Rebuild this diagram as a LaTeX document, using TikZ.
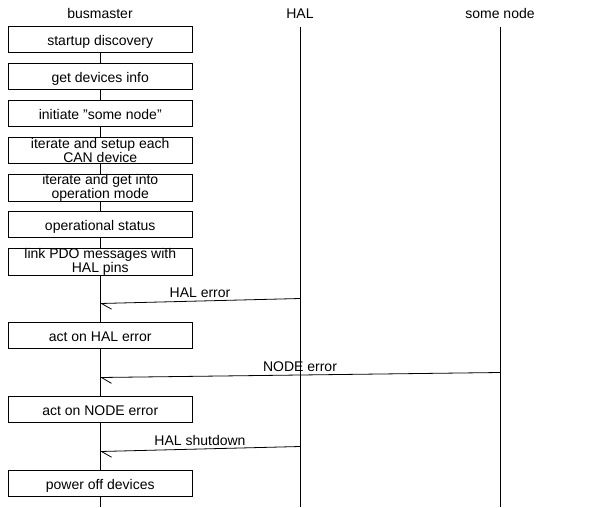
\documentclass[tikz,border=0pt]{standalone}
\usepackage{fontspec}
\setmainfont{Liberation Sans}
\usetikzlibrary{arrows.meta,positioning}

\begin{document}
\begin{tikzpicture}[x=1pt, y=-1pt, font=\fontsize{14}{10.5}\selectfont]
			\tikzstyle{Actor}	= [anchor=base, inner sep=0pt, text height=10pt, text depth=8pt]
			\tikzstyle{Life}	= [line width=0.8pt]
			\tikzstyle{Action}	= [draw, fill=white, line width=0.8pt, minimum width=183.5pt, minimum height=25.5pt, inner sep=0pt]
			\tikzstyle{OneLine}	= [text height=11pt, text depth=0pt]
			\tikzstyle{TwoLine}	= [align=center]
			\tikzstyle{Msg}		= [line width=0.8pt, -{Straight Barb[harpoon, length=10pt, width=12pt]}]
			\tikzstyle{Lbl}		= [midway, anchor=base, yshift=3.5pt, inner sep=0pt]
			
			\useasboundingbox (0,0) rectangle (600,507);
			
			\node (bm) at (100, 18.5) [Actor] {busmaster};
			\node (hal) at (300, 18.5) [Actor] {HAL};
			\node (sn) at (500, 18.5) [Actor] {some node};
			
			\coordinate (bmEnd) at (100, 507);
			\coordinate (halEnd) at (300, 507);
			\coordinate (snEnd) at (500, 507);
			
			\draw [Life] (bm.south) to (bmEnd);
			\draw [Life] (hal.south) to (halEnd);
			\draw [Life] (sn.south) to (snEnd);
			
			\node (a1) at (100.25, 39.5) [Action, OneLine] {startup discovery};
			\node (a2) at (100.25, 76.5) [Action, OneLine] {get devices info};
			\node (a3) at (100.25, 113.5) [Action, OneLine] {initiate "some node"};
			\node (a4) at (100.25, 150.5) [Action, TwoLine] {iterate and setup each\\CAN device};
			\node (a5) at (100.25, 187.5) [Action, TwoLine] {iterate and get into\\operation mode};
			\node (a6) at (100.25, 224.5) [Action, OneLine] {operational status};
			\node (a7) at (100.25, 261.5) [Action, TwoLine] {link PDO messages with\\HAL pins};
			\node (a8) at (100.25, 335.5) [Action, OneLine] {act on HAL error};
			\node (a9) at (100.25, 409.5) [Action, OneLine] {act on NODE error};
			\node (a10) at (100.25, 483.5) [Action, OneLine] {power off devices};
			
			% messages
			\coordinate (m1a) at (300, 298.5);
			\coordinate (m1b) at (100, 303.5);
			\coordinate (m2a) at (500, 372.5);
			\coordinate (m2b) at (100, 377.5);
			\coordinate (m3a) at (300, 446.5);
			\coordinate (m3b) at (100, 451.5);
			
			\draw [Msg] (m1a) to node [Lbl] {HAL error} (m1b);
			\draw [Msg] (m2a) to node [Lbl] {NODE error} (m2b);
			\draw [Msg] (m3a) to node [Lbl] {HAL shutdown} (m3b);
		\end{tikzpicture}
\end{document}
